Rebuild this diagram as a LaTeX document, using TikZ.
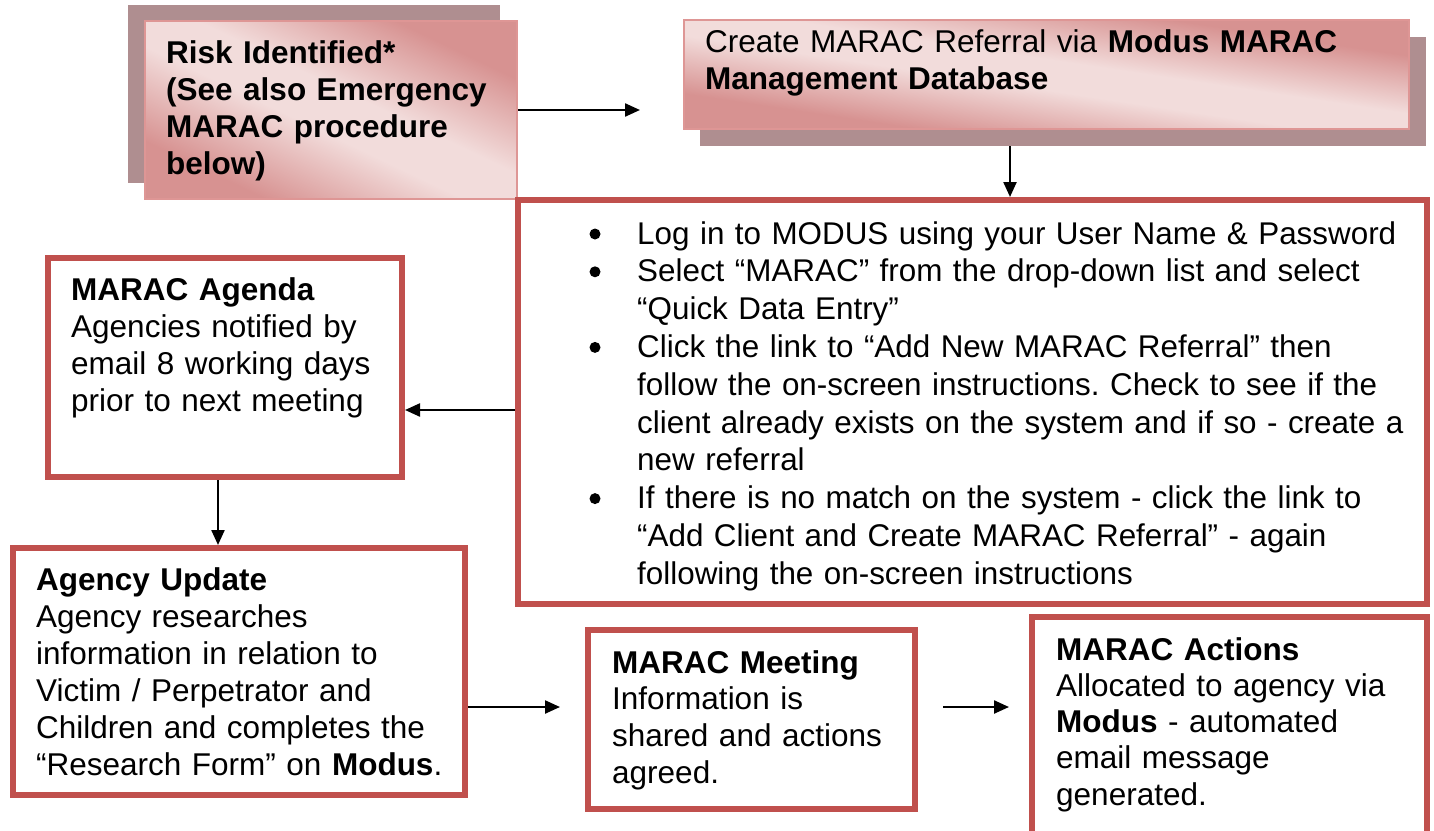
\documentclass[tikz,border=0pt]{standalone}
\usepackage{fontspec}
\setmainfont{Liberation Sans}
\usetikzlibrary{arrows.meta}
\definecolor{boxred}{RGB}{192,80,77}
\definecolor{shadowc}{RGB}{175,142,144}
\definecolor{pinkdark}{RGB}{215,146,145}
\definecolor{pinklight}{RGB}{242,220,219}
\definecolor{pinkedge}{RGB}{222,150,149}
\pgfdeclareverticalshading{pinkdiag}{100bp}{color(0bp)=(pinkdark); color(26bp)=(pinkdark); color(45bp)=(pinklight); color(55bp)=(pinklight); color(74bp)=(pinkdark); color(100bp)=(pinkdark)}
\begin{document}
\frenchspacing
\begin{tikzpicture}[x=1pt,y=-1pt,
  redbox/.style={draw=boxred, line width=6pt, fill=white, rectangle, inner sep=0pt},
  shadowbox/.style={fill=shadowc, rectangle, inner sep=0pt},
  pinkbox/.style={draw=pinkedge, line width=2pt, rectangle, inner sep=0pt},
  pinkfill/.style={shading=pinkdiag, shading angle=-45},
  txt/.style={anchor=base west, inner sep=0pt, align=left, text width=800pt},
  arr/.style={draw=black, line width=2.3pt, -{Triangle[length=15pt,width=13pt]}},
  bul/.style={fill=black}
]
\useasboundingbox (0,0) rectangle (1434,830);
\clip (0,0) rectangle (1434,830);

% pink boxes with shadows
\node[shadowbox, minimum width=372pt, minimum height=178pt] (riskS) at (314,94) {};
\begin{scope}[transform canvas={shift={(145,21)}, xscale=3.72, yscale=1.78}]
  \shade[pinkfill] (0,0) rectangle (100,100);
\end{scope}
\node[pinkbox, minimum width=372pt, minimum height=178pt] (risk) at (331,110) {};

\node[shadowbox, minimum width=726pt, minimum height=109pt] (createS) at (1063,91.5) {};
\begin{scope}[transform canvas={shift={(684,20)}, xscale=7.25, yscale=1.09}]
  \shade[pinkfill] (0,0) rectangle (100,100);
\end{scope}
\node[pinkbox, minimum width=725pt, minimum height=109pt] (create) at (1046.5,74.5) {};

% red boxes
\node[redbox, minimum width=909pt, minimum height=404pt] (steps) at (972.5,402) {};
\node[redbox, minimum width=354pt, minimum height=219pt] (agenda) at (225,367.5) {};
\node[redbox, minimum width=452pt, minimum height=247pt] (update) at (239,671.5) {};
\node[redbox, minimum width=327pt, minimum height=179pt] (meeting) at (751.5,719.5) {};
\node[redbox, minimum width=395pt, minimum height=226pt] (actions) at (1229.5,730) {};

% texts
\node[txt, font=\fontsize{31.5}{37.3}\selectfont\bfseries] (riskT) at (166,63)
  {Risk Identified*\\(See also Emergency\\MARAC procedure\\below)};
\node[txt, font=\fontsize{31.5}{37.5}\selectfont] (createT) at (705,52)
  {Create MARAC Referral via \textbf{Modus MARAC}\\\textbf{Management Database}};

\node[txt, font=\fontsize{31.4}{37.8}\selectfont] (s1) at (637,244)
  {Log in to MODUS using your User Name \& Password};
\node[txt, font=\fontsize{31.4}{37.8}\selectfont] (s2) at (637,281.8)
  {Select “MARAC” from the drop-down list and select\\“Quick Data Entry”};
\node[txt, font=\fontsize{31.4}{37.8}\selectfont] (s3) at (637,357.4)
  {Click the link to “Add New MARAC Referral” then\\follow the on-screen instructions. Check to see if the\\client already exists on the system and if so - create a\\new referral};
\node[txt, font=\fontsize{31.4}{37.8}\selectfont] (s4) at (637,508.6)
  {If there is no match on the system - click the link to\\“Add Client and Create MARAC Referral” - again\\following the on-screen instructions};
\foreach \b in {244,281.8,357.4,508.6}{
  \fill[bul] (595,\b-10) circle (5.5pt);
}

\node[txt, font=\fontsize{31.5}{37}\selectfont] (agendaT) at (71,300)
  {\textbf{MARAC Agenda}\\Agencies notified by\\email 8 working days\\prior to next meeting};
\node[txt, font=\fontsize{31.5}{37}\selectfont] (updateT) at (36,590)
  {\textbf{Agency Update}\\Agency researches\\information in relation to\\Victim / Perpetrator and\\Children and completes the\\“Research Form” on \textbf{Modus}.};
\node[txt, font=\fontsize{31.5}{36.8}\selectfont] (meetingT) at (612,673)
  {\textbf{MARAC Meeting}\\Information is\\shared and actions\\agreed.};
\node[txt, font=\fontsize{31.5}{36.3}\selectfont] (actionsT) at (1056,660)
  {\textbf{MARAC Actions}\\Allocated to agency via\\\textbf{Modus} - automated\\email message\\generated.};

% connectors
\coordinate (a1) at (640,110);
\coordinate (a2) at (1010,0);
\coordinate (a3) at (0,410);
\coordinate (a4) at (218,0);
\coordinate (a5) at (560,707);
\coordinate (a6s) at (943,707);
\coordinate (a6e) at (1009,707);
\draw[arr] (risk.east) -- (a1);
\draw[arr] (createS.south -| a2) -- (steps.north -| a2);
\draw[arr] (steps.west |- a3) -- (agenda.east |- a3);
\draw[arr] (agenda.south -| a4) -- (update.north -| a4);
\draw[arr] (update.east |- a5) -- (a5);
\draw[arr] (a6s) -- (a6e);
\end{tikzpicture}
\end{document}
